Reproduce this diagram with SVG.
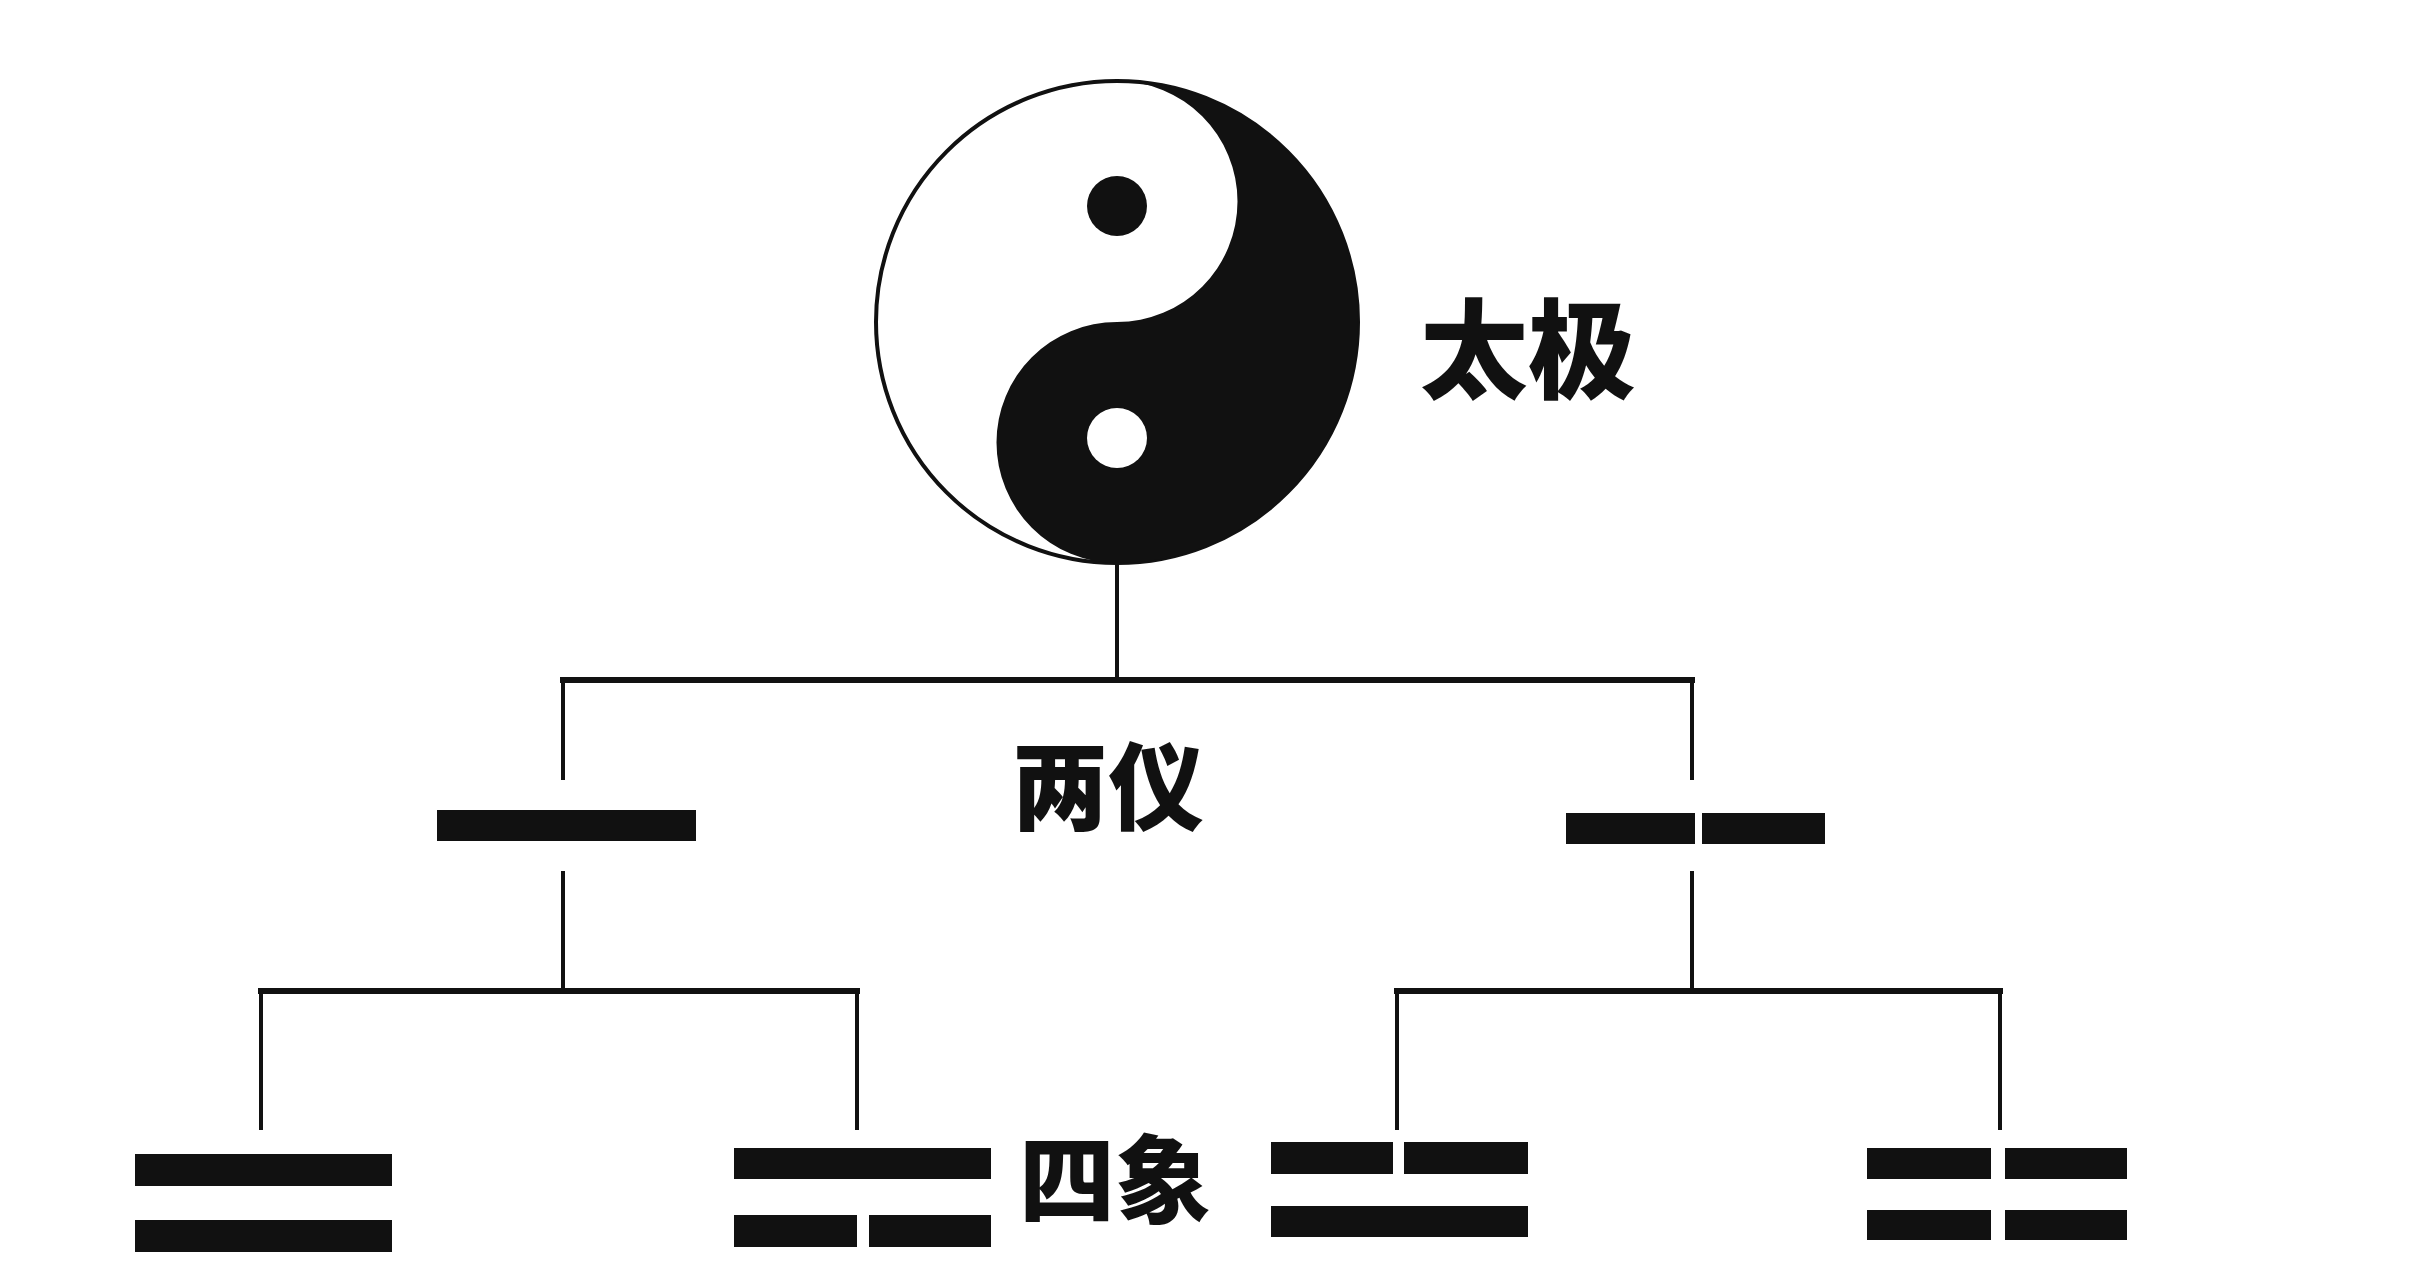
<svg xmlns="http://www.w3.org/2000/svg" width="2429" height="1280" viewBox="0 0 2429 1280">
<style>
.t{font-family:"Noto Sans CJK SC","Noto Sans CJK JP",sans-serif;font-weight:900;fill:#111}
.c{stroke:#111;fill:none;stroke-linecap:square}
.b{fill:#111}
</style>
<rect width="2429" height="1280" fill="#fff"/>
<g id="taiji">
<circle cx="1117" cy="322" r="241" fill="#fff" stroke="#111" stroke-width="4"/>
<path class="b" d="M1117,81 A241,241 0 0 1 1117,563 A120.5,120.5 0 0 1 1117,322 A120.5,120.5 0 0 0 1117,81 Z"/>
<circle cx="1117" cy="206" r="30" fill="#111"/>
<circle cx="1117" cy="438" r="30" fill="#fff"/>
<text class="t" x="1420" y="390" font-size="108">太极</text>
</g>
<g id="connectors">
<path class="c" stroke-width="4" d="M1117,563 V680 M563,680 V778 M1692,680 V778 M563,873 V991 M1692,873 V991 M261,991 V1128 M857,991 V1128 M1397,991 V1128 M2000,991 V1128"/>
<path class="c" stroke-width="6" d="M563,680 H1692 M261,991 H857 M1397,991 H2000"/>
</g>
<g id="liangyi">
<text class="t" x="1012" y="822" font-size="96">两仪</text>
</g>
<g id="yang"><rect class="b" x="437" y="810" width="259" height="31"/></g>
<g id="yin"><rect class="b" x="1566" y="813" width="129" height="31"/><rect class="b" x="1702" y="813" width="123" height="31"/></g>
<g id="taiyang"><rect class="b" x="135" y="1154" width="257" height="32"/><rect class="b" x="135" y="1220" width="257" height="32"/></g>
<g id="shaoyin"><rect class="b" x="734" y="1148" width="257" height="31"/><rect class="b" x="734" y="1215" width="123" height="32"/><rect class="b" x="869" y="1215" width="122" height="32"/></g>
<g id="sixiang"><text class="t" x="1019" y="1215" font-size="96">四象</text></g>
<g id="shaoyang"><rect class="b" x="1271" y="1142" width="122" height="32"/><rect class="b" x="1404" y="1142" width="124" height="32"/><rect class="b" x="1271" y="1206" width="257" height="31"/></g>
<g id="taiyin"><rect class="b" x="1867" y="1148" width="124" height="31"/><rect class="b" x="2005" y="1148" width="122" height="31"/><rect class="b" x="1867" y="1210" width="124" height="30"/><rect class="b" x="2005" y="1210" width="122" height="30"/></g>
</svg>
